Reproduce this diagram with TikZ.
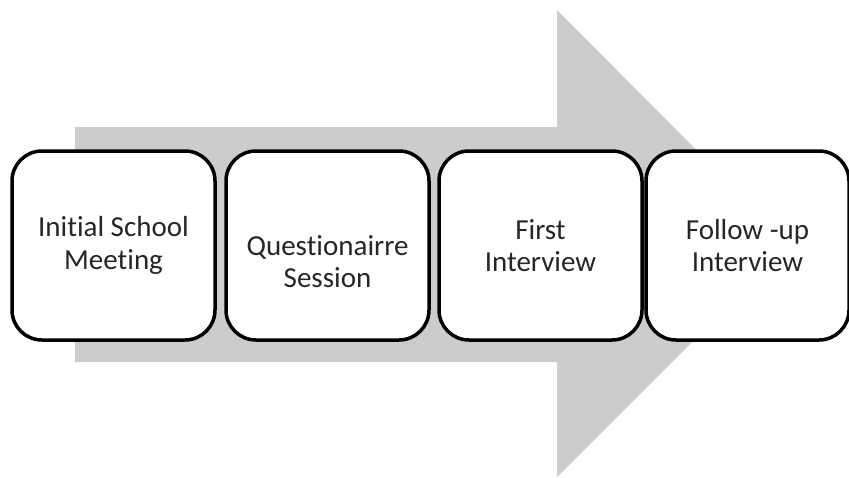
\documentclass[tikz,border=0pt]{standalone}
\usepackage{fontspec}
\setmainfont{Carlito}[Ligatures={NoCommon}]

\tikzset{
  stagebox/.style={draw=black, line width=3.5pt, fill=white, rounded corners=30pt,
    minimum width=203pt, minimum height=189pt, inner sep=0pt, align=center,
    font=\fontsize{29}{32.5}\selectfont, text=black!85},
  stagetext/.style={inner sep=0pt, align=center, font=\fontsize{29}{32.5}\selectfont, text=black!85},
}

\begin{document}
\begin{tikzpicture}[x=1pt,y=1pt,yscale=-1,xscale=1]
\useasboundingbox (0,0) rectangle (849,477);

%Right Arrow
\fill[black!20] (75,127) -- (557,127) -- (557,10) -- (790,244) -- (557,477) -- (557,362) -- (75,362) -- cycle ;

% Stage Nodes
\node[stagebox] (meeting) at (113.5,245.5) {Initial School\\Meeting};
\node[stagebox] (session) at (327.5,245.5) {};
\node[stagebox] (first) at (540.5,245.5) {First\\Interview};
\node[stagebox] (followup) at (747.5,245.5) {Follow -up\\Interview};

% Text Node (set lower in its box)
\node[stagetext] (sessiontext) at (327.5,261.5) {Questionairre\\Session};

\end{tikzpicture}
\end{document}
